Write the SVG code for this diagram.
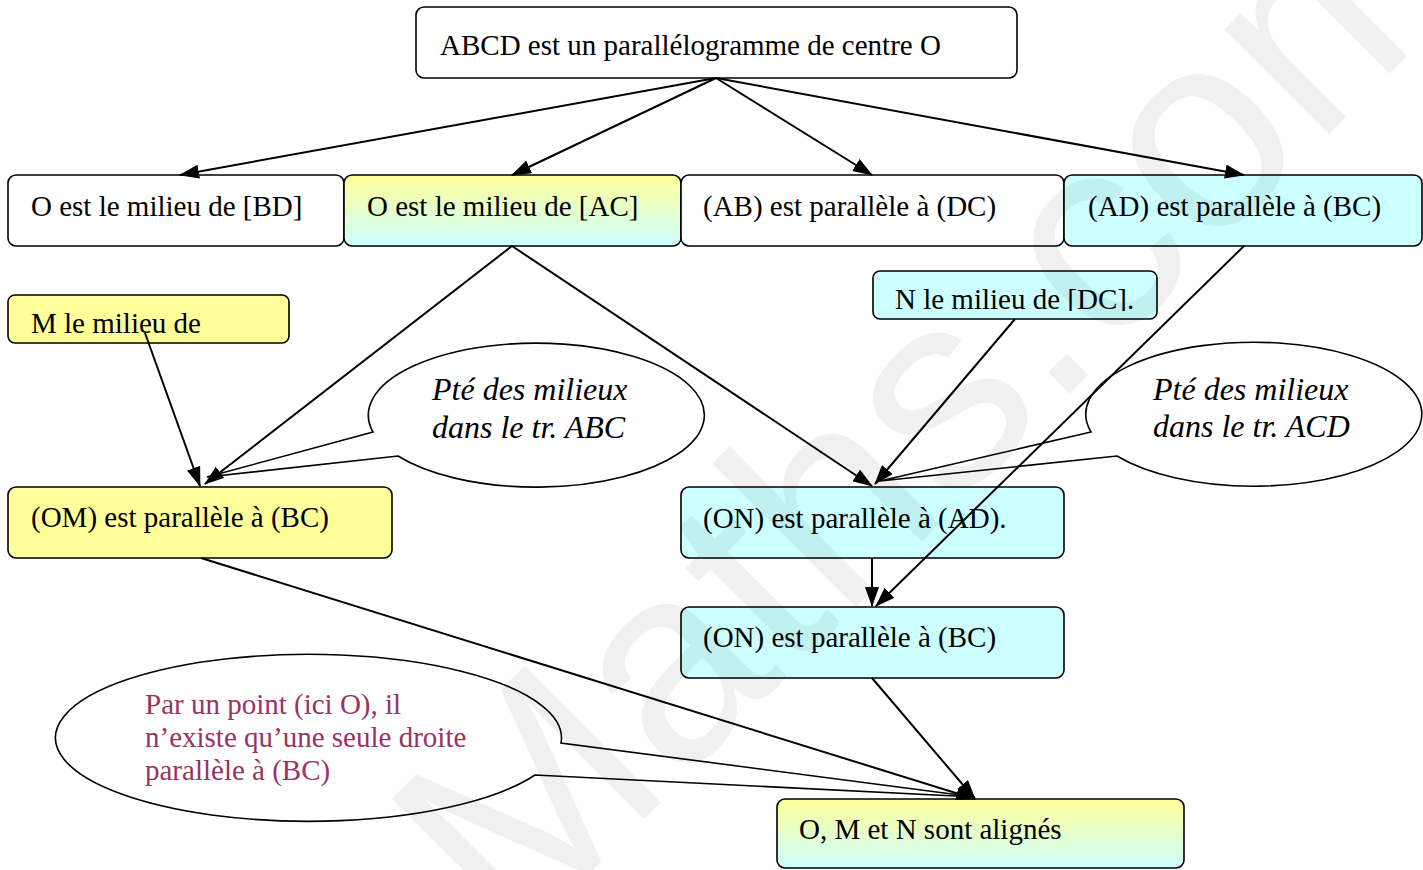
<svg xmlns="http://www.w3.org/2000/svg" width="1423" height="870" viewBox="0 0 1423 870">
<style>
.box{stroke:#000;stroke-width:1.6}
.w{fill:#fff}.y{fill:#ffff99}.c{fill:#ccffff}.g{fill:url(#yc)}
.t{font-family:"Liberation Serif","Times New Roman",serif;font-size:29px;fill:#000}
.it{font-style:italic;font-size:32px}
.p{fill:#993366}
.con line{stroke:#000;stroke-width:2;marker-end:url(#ah)}
.call{fill:#fff;stroke:#000;stroke-width:1.6}
</style>
<defs>
<linearGradient id="yc" x1="0" y1="0" x2="0" y2="1">
<stop offset="0" stop-color="#ffff99"/><stop offset="1" stop-color="#ccffff"/>
</linearGradient>
<marker id="ah" markerUnits="userSpaceOnUse" markerWidth="20" markerHeight="14" refX="19" refY="7" orient="auto">
<path d="M0,0 L20,7 L0,14 Z" fill="#000"/>
</marker>
<clipPath id="nclip"><rect x="873" y="271" width="284" height="40"/></clipPath>
</defs>
<rect width="1423" height="870" fill="#fff"/>

<g id="top"><rect class="box w" x="416" y="7" width="601" height="71" rx="8"/><text class="t" x="440" y="55">ABCD est un parallélogramme de centre O</text></g>
<g id="bd"><rect class="box w" x="8" y="175" width="336" height="71" rx="8"/><text class="t" x="31" y="216">O est le milieu de [BD]</text></g>
<g id="ac"><rect class="box g" x="344" y="175" width="337" height="71" rx="8"/><text class="t" x="367" y="216">O est le milieu de [AC]</text></g>
<g id="abdc"><rect class="box w" x="681" y="175" width="383" height="71" rx="8"/><text class="t" x="703" y="216">(AB) est parallèle à (DC)</text></g>
<g id="adbc"><rect class="box c" x="1064" y="175" width="358" height="71" rx="8"/><text class="t" x="1088" y="216">(AD) est parallèle à (BC)</text></g>
<g id="m"><rect class="box y" x="8" y="295" width="281" height="48" rx="7"/><text class="t" x="31" y="333">M le milieu de</text></g>
<g id="n"><rect class="box c" x="873" y="271" width="284" height="48" rx="7"/><text class="t" x="895" y="309" clip-path="url(#nclip)">N le milieu de [DC].</text></g>

<g id="call1"><path class="call" d="M373,432 A168,72 0 1 1 398,456 L207,477 Z"/><text class="t it" x="432" y="400">Pté des milieux</text><text class="t it" x="432" y="438">dans le tr. ABC</text></g>
<g id="call2"><path class="call" d="M1091,432 A168,72 0 1 1 1117,456 L880,481 Z"/><text class="t it" x="1153" y="400">Pté des milieux</text><text class="t it" x="1153" y="437">dans le tr. ACD</text></g>

<g id="om"><rect class="box y" x="8" y="487" width="384" height="71" rx="8"/><text class="t" x="31" y="527">(OM) est parallèle à (BC)</text></g>
<g id="onad"><rect class="box c" x="681" y="487" width="383" height="71" rx="8"/><text class="t" x="703" y="528">(ON) est parallèle à (AD).</text></g>
<g id="onbc"><rect class="box c" x="681" y="607" width="383" height="71" rx="8"/><text class="t" x="703" y="647">(ON) est parallèle à (BC)</text></g>

<g id="call3"><path class="call" d="M561,743 A253,83.5 0 1 0 535,775 L975,797 Z"/><text class="t p" x="145" y="714">Par un point (ici O), il</text><text class="t p" x="145" y="747">n’existe qu’une seule droite</text><text class="t p" x="145" y="780">parallèle à (BC)</text></g>

<g id="omn"><rect class="box g" x="777" y="799" width="407" height="69" rx="8"/><text class="t" x="799" y="839">O, M et N sont alignés</text></g>

<g class="con">
<line x1="716" y1="78" x2="180" y2="175"/>
<line x1="716" y1="78" x2="512" y2="175"/>
<line x1="716" y1="78" x2="872" y2="175"/>
<line x1="716" y1="78" x2="1244" y2="175"/>
<line x1="512" y1="246" x2="205" y2="484"/>
<line x1="512" y1="246" x2="872" y2="486"/>
<line x1="145" y1="333" x2="200" y2="486"/>
<line x1="1015" y1="319" x2="875" y2="484"/>
<line x1="1244" y1="246" x2="876" y2="606"/>
<line x1="872" y1="558" x2="872" y2="606"/>
<line x1="201" y1="558" x2="975" y2="799"/>
<line x1="872" y1="678" x2="975" y2="799"/>
</g>

<text x="512" y="951" transform="rotate(-45 512 951)" font-family="Liberation Sans, Arial, sans-serif" font-size="280" fill="#000" fill-opacity="0.06">Maths.com</text>
</svg>
